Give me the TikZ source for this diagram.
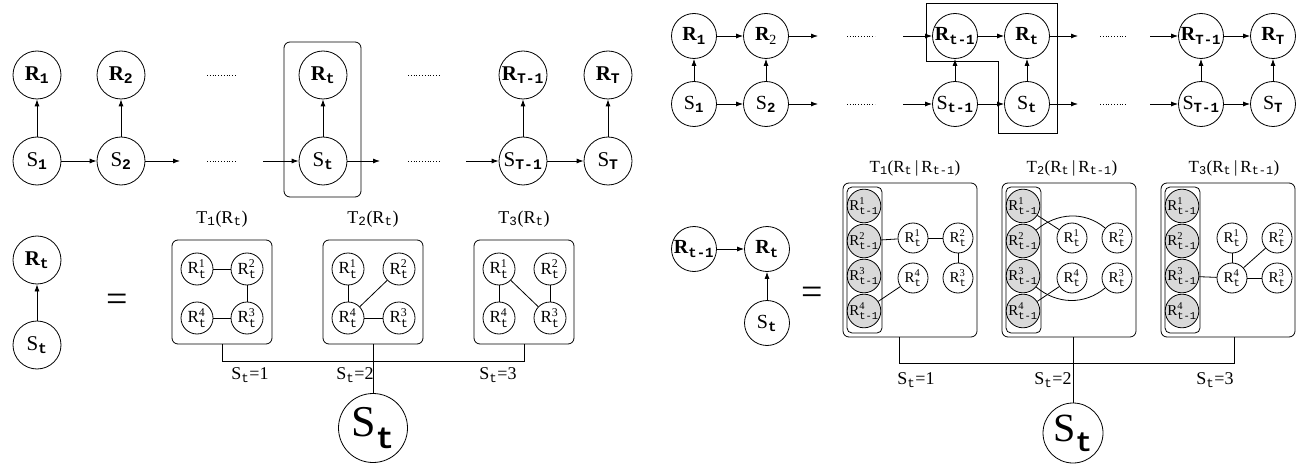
\documentclass[tikz,border=0pt]{standalone}
\usepackage{amsmath}
\usepackage{fontspec}
\setmainfont{Liberation Serif}
\setmonofont{Liberation Mono}
\usetikzlibrary{arrows.meta}

\newcommand{\bR}[1]{$\textbf{R}_{\text{\ttfamily\bfseries #1}}$}
\newcommand{\nS}[1]{$\text{S}_{\text{\ttfamily\bfseries #1}}$}
\newcommand{\sR}[2]{$\text{R}^{\text{#1}}_{\text{\ttfamily #2}}$}
\newcommand{\tsub}[1]{$_{\text{\ttfamily #1}}$}

\begin{document}
\begin{tikzpicture}[x=1pt,y=-1pt,line width=0.8pt,
  every node/.style={inner sep=0pt},
  big/.style={circle,draw,minimum size=48pt,font=\fontsize{21}{24}\selectfont},
  mid/.style={circle,draw,minimum size=45pt,font=\fontsize{20}{23}\selectfont},
  small/.style={circle,draw,minimum size=32pt,font=\fontsize{17}{19}\selectfont},
  tiny/.style={circle,draw,minimum size=30pt,font=\fontsize{15}{17}\selectfont},
  past/.style={tiny,fill=gray!30},
  tbox/.style={draw,rounded corners=6pt},
  lbl/.style={font=\fontsize{18}{21}\selectfont},
  rlbl/.style={font=\fontsize{17}{20}\selectfont},
  arr/.style={-{Latex[length=7pt,width=5pt]}},
  dots/.style={dotted,line width=0.8pt}]
\useasboundingbox (0,0) rectangle (1306,465);

% upper left: chain S -> R
\node[big] (r1) at (37,75) {\bR{1}}; \node[big] (r2) at (121,75) {\bR{2}};
\node[big] (rt) at (323,75) {\bR{t}};
\node[big] (rTm) at (523,75) {\bR{T-1}}; \node[big] (rT) at (608,75) {\bR{T}};
\node[big] (s1) at (37,161) {\nS{1}}; \node[big] (s2) at (121,161) {\nS{2}};
\node[big] (st) at (323,161) {\nS{t}};
\node[big] (sTm) at (523,161) {\nS{T-1}}; \node[big] (sT) at (608,161) {\nS{T}};
\coordinate (a1) at (180,161); \coordinate (a2) at (263,161);
\coordinate (a3) at (380,161); \coordinate (a4) at (466,161);
\draw[arr] (s1) -- (r1); \draw[arr] (s2) -- (r2); \draw[arr] (st) -- (rt);
\draw[arr] (sTm) -- (rTm); \draw[arr] (sT) -- (rT);
\draw[arr] (s1) -- (s2); \draw[arr] (s2) -- (a1); \draw[arr] (a2) -- (st);
\draw[arr] (st) -- (a3); \draw[arr] (a4) -- (sTm); \draw[arr] (sTm) -- (sT);
\draw[dots] (207,75) -- (237,75); \draw[dots] (207,161) -- (237,161);
\draw[dots] (408,75) -- (439,75); \draw[dots] (408,161) -- (439,161);
\draw[tbox] (284,42) rectangle (361,197);

% lower left: one slice
\node[big] (lr) at (37,260) {\bR{t}}; \node[big] (ls) at (37,345) {\nS{t}};
\draw[arr] (ls) -- (lr);
\node[font=\fontsize{38}{42}\selectfont] (eqa) at (117,303) {=};

\node[tbox,minimum width=100pt,minimum height=104pt] (ta) at (222,292) {};
\node[small] (ta1) at (197,269) {\sR{1}{t}}; \node[small] (ta2) at (247,269) {\sR{2}{t}};
\node[small] (ta4) at (197,318) {\sR{4}{t}}; \node[small] (ta3) at (247,318) {\sR{3}{t}};
\draw (ta1) -- (ta2); \draw (ta2) -- (ta3); \draw (ta4) -- (ta3);
\node[lbl] (tal) at (222,219) {T\tsub{1}(R\tsub{t})};

\node[tbox,minimum width=100pt,minimum height=104pt] (tb) at (373,292) {};
\node[small] (tb1) at (348,269) {\sR{1}{t}}; \node[small] (tb2) at (399,269) {\sR{2}{t}};
\node[small] (tb4) at (348,318) {\sR{4}{t}}; \node[small] (tb3) at (399,318) {\sR{3}{t}};
\draw (tb1) -- (tb4); \draw (tb2) -- (tb4); \draw (tb4) -- (tb3);
\node[lbl] (tbl) at (373,219) {T\tsub{2}(R\tsub{t})};

\node[tbox,minimum width=100pt,minimum height=104pt] (tc) at (524,292) {};
\node[small] (tc1) at (499,269) {\sR{1}{t}}; \node[small] (tc2) at (550,269) {\sR{2}{t}};
\node[small] (tc4) at (499,318) {\sR{4}{t}}; \node[small] (tc3) at (550,318) {\sR{3}{t}};
\draw (tc1) -- (tc4); \draw (tc1) -- (tc3); \draw (tc2) -- (tc3);
\node[lbl] (tcl) at (524,219) {T\tsub{3}(R\tsub{t})};

\node[circle,draw,minimum size=69pt,font=\fontsize{44}{48}\selectfont] (lS) at (373,428) {\nS{t}};
\draw (ta.south) -- ++(0,17) -| (tc.south);
\draw (tb.south) -- (lS);
\node[lbl] (la1) at (250,375) {S\tsub{t}=1}; \node[lbl] (la2) at (355,375) {S\tsub{t}=2};
\node[lbl] (la3) at (498,375) {S\tsub{t}=3};

% upper right: chain with R -> R
\node[mid] (q1) at (694,36) {\bR{1}}; \node[mid] (q2) at (766,36) {$\textbf{R}_{\text{2}}$};
\node[mid] (qtm) at (955,36) {\bR{t-1}}; \node[mid] (qt) at (1027,36) {\bR{t}};
\node[mid] (qTm) at (1201,36) {\bR{T-1}}; \node[mid] (qT) at (1273,36) {\bR{T}};
\node[mid] (p1) at (694,104) {\nS{1}}; \node[mid] (p2) at (766,104) {\nS{2}};
\node[mid] (ptm) at (955,104) {\nS{t-1}}; \node[mid] (pt) at (1027,104) {\nS{t}};
\node[mid] (pTm) at (1201,104) {\nS{T-1}}; \node[mid] (pT) at (1273,104) {\nS{T}};
\coordinate (b1) at (818,36); \coordinate (b2) at (903,36);
\coordinate (b3) at (1078,36); \coordinate (b4) at (1150,36);
\coordinate (c1) at (818,104); \coordinate (c2) at (903,104);
\coordinate (c3) at (1078,104); \coordinate (c4) at (1150,104);
\draw[arr] (p1) -- (q1); \draw[arr] (p2) -- (q2); \draw[arr] (ptm) -- (qtm);
\draw[arr] (pt) -- (qt); \draw[arr] (pTm) -- (qTm); \draw[arr] (pT) -- (qT);
\draw[arr] (q1) -- (q2); \draw[arr] (q2) -- (b1); \draw[arr] (b2) -- (qtm);
\draw[arr] (qtm) -- (qt); \draw[arr] (qt) -- (b3); \draw[arr] (b4) -- (qTm); \draw[arr] (qTm) -- (qT);
\draw[arr] (p1) -- (p2); \draw[arr] (p2) -- (c1); \draw[arr] (c2) -- (ptm);
\draw[arr] (ptm) -- (pt); \draw[arr] (pt) -- (c3); \draw[arr] (c4) -- (pTm); \draw[arr] (pTm) -- (pT);
\draw[dots] (847,36) -- (875,36); \draw[dots] (847,104) -- (875,104);
\draw[dots] (1100,36) -- (1127,36); \draw[dots] (1100,104) -- (1127,104);
\draw (926,3) -- (1057,3) -- (1057,133) -- (998,133) -- (998,61) -- (926,61) -- cycle;

% lower right: one slice
\node[mid] (mr0) at (694,249) {\bR{t-1}}; \node[mid] (mr) at (767,249) {\bR{t}};
\node[mid] (ms) at (767,323) {\nS{t}};
\draw[arr] (mr0) -- (mr); \draw[arr] (ms) -- (mr);
\node[font=\fontsize{38}{42}\selectfont] (eqb) at (812,296) {=};

\node[tbox,minimum width=134pt,minimum height=154pt] (ua) at (910,260) {};
\node[tbox,rounded corners=5pt,minimum width=35pt,minimum height=146pt] (uai) at (864.5,260) {};
\node[past] (a1p) at (864,206) {\sR{1}{t-1}}; \node[past] (a2p) at (864,241) {\sR{2}{t-1}};
\node[past] (a3p) at (864,276) {\sR{3}{t-1}}; \node[past] (a4p) at (864,311) {\sR{4}{t-1}};
\node[tiny] (a1) at (913,238) {\sR{1}{t}}; \node[tiny] (a2) at (958,238) {\sR{2}{t}};
\node[tiny] (a4) at (913,278) {\sR{4}{t}}; \node[tiny] (a3) at (958,278) {\sR{3}{t}};
\draw (a2p) -- (a1); \draw (a1) -- (a2); \draw (a2) -- (a3); \draw (a4p) -- (a4);
\node[rlbl] (ual) at (915,168) {T\tsub{1}(R\tsub{t}\,|\,R\tsub{t-1})};

\node[tbox,minimum width=134pt,minimum height=154pt] (ub) at (1069,260) {};
\node[tbox,rounded corners=5pt,minimum width=35pt,minimum height=146pt] (ubi) at (1023.5,260) {};
\node[past] (b1p) at (1023,206) {\sR{1}{t-1}}; \node[past] (b2p) at (1023,241) {\sR{2}{t-1}};
\node[past] (b3p) at (1023,276) {\sR{3}{t-1}}; \node[past] (b4p) at (1023,311) {\sR{4}{t-1}};
\node[tiny] (b1) at (1072,238) {\sR{1}{t}}; \node[tiny] (b2) at (1117,238) {\sR{2}{t}};
\node[tiny] (b4) at (1072,278) {\sR{4}{t}}; \node[tiny] (b3) at (1117,278) {\sR{3}{t}};
\draw (b1p) -- (b1); \draw (b2p) to[out=40,in=140] (b2);
\draw (b3p) to[out=-40,in=-140] (b3); \draw (b4p) -- (b4);
\node[rlbl] (ubl) at (1072,168) {T\tsub{2}(R\tsub{t}\,|\,R\tsub{t-1})};

\node[tbox,minimum width=134pt,minimum height=154pt] (uc) at (1228,260) {};
\node[tbox,rounded corners=5pt,minimum width=35pt,minimum height=146pt] (uci) at (1182.5,260) {};
\node[past] (c1p) at (1182,206) {\sR{1}{t-1}}; \node[past] (c2p) at (1182,241) {\sR{2}{t-1}};
\node[past] (c3p) at (1182,276) {\sR{3}{t-1}}; \node[past] (c4p) at (1182,311) {\sR{4}{t-1}};
\node[tiny] (c1) at (1232,238) {\sR{1}{t}}; \node[tiny] (c2) at (1277,238) {\sR{2}{t}};
\node[tiny] (c4) at (1232,278) {\sR{4}{t}}; \node[tiny] (c3) at (1277,278) {\sR{3}{t}};
\draw (c3p) -- (c4); \draw (c1) -- (c4); \draw (c4) -- (c2); \draw (c4) -- (c3);
\node[rlbl] (ucl) at (1234,168) {T\tsub{3}(R\tsub{t}\,|\,R\tsub{t-1})};

\node[circle,draw,minimum size=60pt,font=\fontsize{40}{44}\selectfont] (uS) at (1073,433) {\nS{t}};
\coordinate (ja) at (899,363); \coordinate (jc) at (1234,363);
\draw (ua.south -| ja) -- (ja) -- (jc) -- (uc.south -| jc);
\draw (uS) -- (uS |- ub.south);
\node[lbl] (ua1) at (916,380) {S\tsub{t}=1}; \node[lbl] (ua2) at (1053,380) {S\tsub{t}=2};
\node[lbl] (ua3) at (1215,380) {S\tsub{t}=3};
\end{tikzpicture}
\end{document}
